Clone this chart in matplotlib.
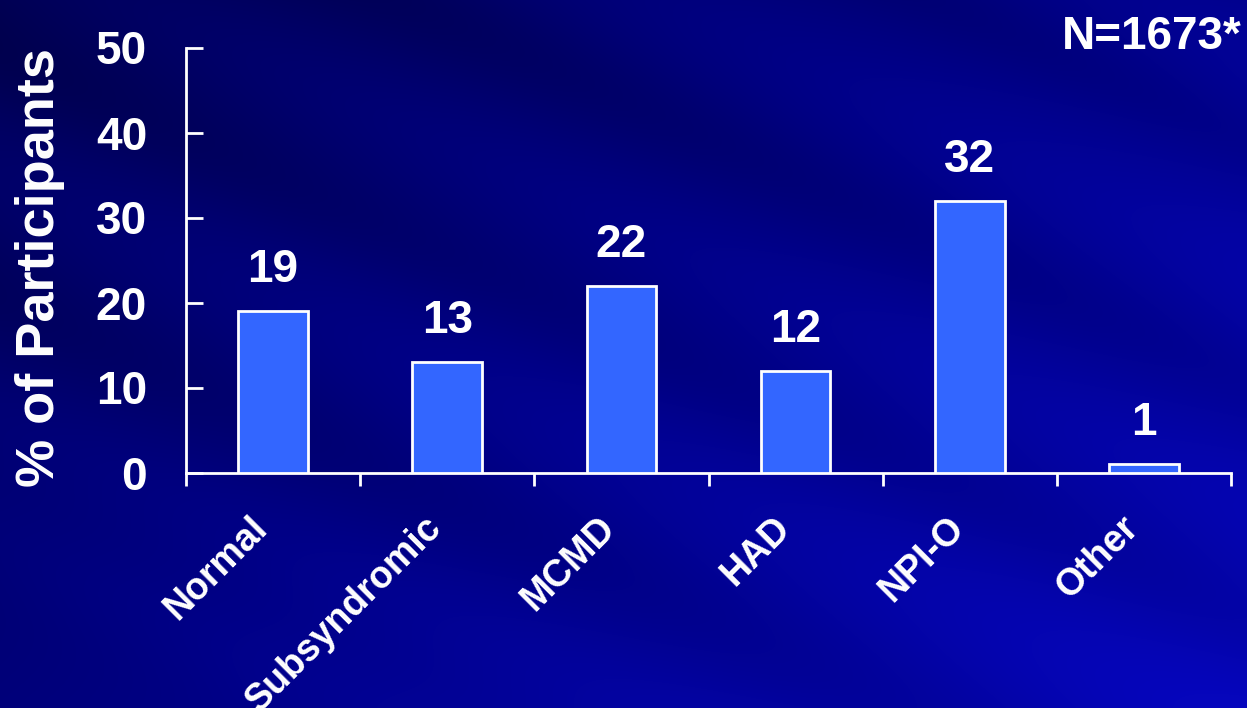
import numpy as np
import matplotlib
matplotlib.use("Agg")
import matplotlib.pyplot as plt

categories = ["Normal", "Subsyndromic", "MCMD", "HAD", "NPI-O", "Other"]
values = [19, 13, 22, 12, 32, 1]
yticks = [0, 10, 20, 30, 40, 50]
ylabel = "% of Participants"
note = "N=1673*"

plt.rcParams['font.family'] = ['Liberation Sans', 'DejaVu Sans']
plt.rcParams['font.weight'] = 'bold'

W, H = 1247, 708
fig = plt.figure(figsize=(W / 100, H / 100), dpi=100)

# background gradient with diagonal streaks
yy, xx = np.mgrid[0:H, 0:W].astype(float)
xn, yn = xx / W, yy / H
blue = 0.32 + 0.22 * xn + 0.16 * yn
s = yy - 0.45 * xx
bands = [(-520, 60, 0.04), (-420, 40, -0.03), (-300, 70, 0.05), (-180, 50, -0.04),
         (-60, 60, 0.04), (60, 50, -0.03), (170, 80, 0.05), (300, 60, -0.03),
         (420, 70, 0.04), (540, 60, 0.03), (-640, 60, -0.03)]
for c, w, a in bands:
    blue += a * np.exp(-((s - c) / w) ** 2)
blue = np.clip(blue, 0, 1)
red = np.clip(0.02 * (blue - 0.5) / 0.2, 0, 0.05)
img = np.dstack([red, red, blue])
bg = fig.add_axes([0, 0, 1, 1], zorder=-10)
bg.imshow(img, aspect='auto', extent=[0, 1, 0, 1], origin='upper')
bg.axis('off')

ax = fig.add_axes([186 / W, 1 - 472.5 / H, (1231 - 186) / W, (472.5 - 47.5) / H])
ax.patch.set_alpha(0)
x = np.arange(len(categories))
ax.bar(x, values, width=0.4, color='#3366FF', edgecolor='white', linewidth=2, zorder=3)
ax.set_xlim(-0.5, len(categories) - 0.5)
ax.set_ylim(0, 50)

for sp in ['top', 'right']:
    ax.spines[sp].set_visible(False)
for sp in ['left', 'bottom']:
    ax.spines[sp].set_color('white')
    ax.spines[sp].set_linewidth(2)

ax.set_yticks(yticks)
ax.set_yticklabels([str(t) for t in yticks])
ax.tick_params(axis='y', direction='in', length=12, width=2, color='white',
               labelcolor='white', labelsize=33, pad=28)
ax.set_xticks(np.arange(-0.5, len(categories), 1.0))
ax.set_xticklabels([])
ax.tick_params(axis='x', direction='out', length=9, width=2, color='white')

for i, (c, v) in enumerate(zip(categories, values)):
    ax.text(i, v + 3.4, str(v), ha='center', va='baseline', color='white',
            fontsize=33, fontweight='bold')
    ax.annotate(c, xy=(i, 0), xycoords=('data', 'axes fraction'),
                xytext=(-8, -36), textcoords='offset points', rotation=45,
                ha='right', va='center', rotation_mode='anchor',
                color='white', fontsize=27, fontweight='bold')

fig.text(40 / W, 1 - 268 / H, ylabel, rotation=90, ha='center', va='center',
         color='white', fontsize=39, fontweight='bold')
fig.text(1242 / W, 1 - 49 / H, note, ha='right', va='baseline', color='white',
         fontsize=33, fontweight='bold')

fig.savefig('out.png', dpi=100)
